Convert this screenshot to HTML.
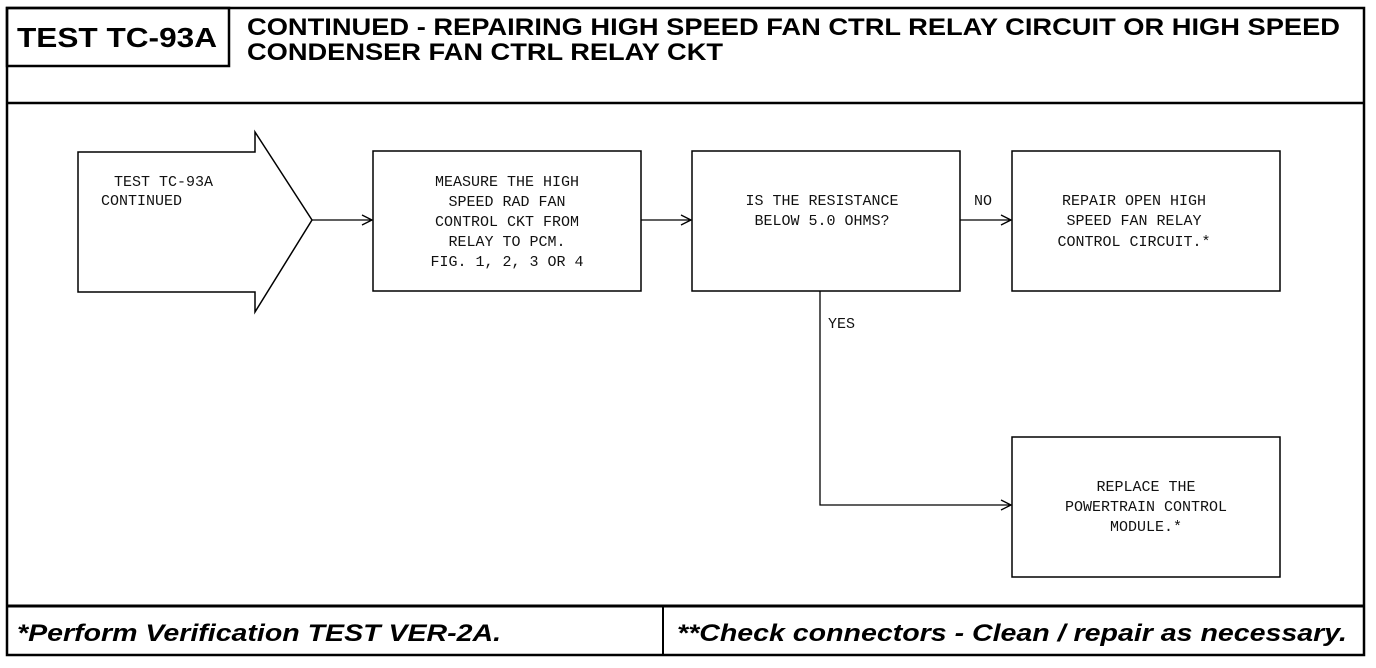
<!DOCTYPE html>
<html><head><meta charset="utf-8"><style>
html,body{margin:0;padding:0;background:#fff;}
svg{display:block;}
.m{font-family:"Liberation Mono",monospace;font-size:15px;fill:#111;}
.h{font-family:"Liberation Sans",sans-serif;font-weight:bold;fill:#000;}
</style></head><body>
<svg width="1376" height="668" viewBox="0 0 1376 668" xmlns="http://www.w3.org/2000/svg">
<defs><marker id="a" markerWidth="12" markerHeight="12" refX="11" refY="6" orient="auto" markerUnits="userSpaceOnUse"><path d="M1,1 L11,6 L1,11" fill="none" stroke="#000" stroke-width="1.3"/></marker></defs>
<g fill="none" stroke="#000">
<rect x="7" y="8" width="1357" height="647" stroke-width="2.5"/>
<line x1="7" y1="103" x2="1364" y2="103" stroke-width="2.5"/>
<rect x="7" y="8" width="222" height="58" stroke-width="2.5"/>
<line x1="7" y1="606" x2="1364" y2="606" stroke-width="3"/>
<line x1="663" y1="606" x2="663" y2="655" stroke-width="2"/>
<path d="M78,152 L255,152 L255,132 L312,220 L255,312 L255,292 L78,292 Z" stroke-width="1.5"/>
<rect x="373" y="151" width="268" height="140" stroke-width="1.5"/>
<rect x="692" y="151" width="268" height="140" stroke-width="1.5"/>
<rect x="1012" y="151" width="268" height="140" stroke-width="1.5"/>
<rect x="1012" y="437" width="268" height="140" stroke-width="1.5"/>
<line x1="312" y1="220" x2="372" y2="220" stroke-width="1.3" marker-end="url(#a)"/>
<line x1="641" y1="220" x2="691" y2="220" stroke-width="1.3" marker-end="url(#a)"/>
<line x1="960" y1="220" x2="1011" y2="220" stroke-width="1.3" marker-end="url(#a)"/>
<path d="M820,291 L820,505 L1011,505" stroke-width="1.3" marker-end="url(#a)"/>
</g>
<text class="h" x="17" y="47" font-size="28" textLength="200" lengthAdjust="spacingAndGlyphs">TEST TC-93A</text>
<text class="h" x="247" y="35" font-size="24" textLength="1093" lengthAdjust="spacingAndGlyphs">CONTINUED - REPAIRING HIGH SPEED FAN CTRL RELAY CIRCUIT OR HIGH SPEED</text>
<text class="h" x="247" y="60" font-size="24" textLength="476" lengthAdjust="spacingAndGlyphs">CONDENSER FAN CTRL RELAY CKT</text>
<text class="h" x="17" y="641" font-size="24" font-style="italic" textLength="484" lengthAdjust="spacingAndGlyphs">*Perform Verification TEST VER-2A.</text>
<text class="h" x="677" y="641" font-size="24" font-style="italic" textLength="670" lengthAdjust="spacingAndGlyphs">**Check connectors - Clean / repair as necessary.</text>
<text class="m" x="114" y="186">TEST TC-93A</text>
<text class="m" x="101" y="205">CONTINUED</text>
<g class="m" text-anchor="middle">
<text x="507" y="186">MEASURE THE HIGH</text>
<text x="507" y="206">SPEED RAD FAN</text>
<text x="507" y="226">CONTROL CKT FROM</text>
<text x="507" y="246">RELAY TO PCM.</text>
<text x="507" y="266">FIG. 1, 2, 3 OR 4</text>
<text x="822" y="205">IS THE RESISTANCE</text>
<text x="822" y="225">BELOW 5.0 OHMS?</text>
<text x="1134" y="205">REPAIR OPEN HIGH</text>
<text x="1134" y="225">SPEED FAN RELAY</text>
<text x="1134" y="246">CONTROL CIRCUIT.*</text>
<text x="1146" y="491">REPLACE THE</text>
<text x="1146" y="511">POWERTRAIN CONTROL</text>
<text x="1146" y="531">MODULE.*</text>
</g>
<text class="m" x="974" y="205">NO</text>
<text class="m" x="828" y="328">YES</text>
</svg>
</body></html>
